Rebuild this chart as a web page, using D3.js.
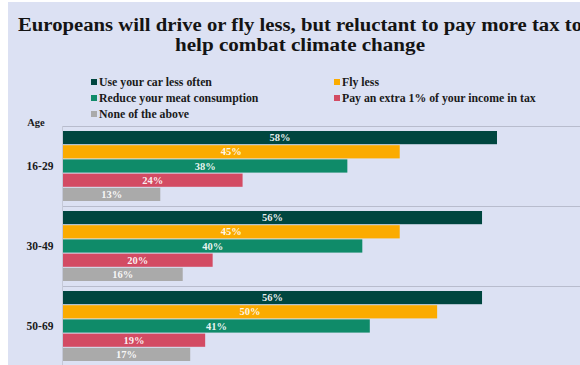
<!DOCTYPE html>
<html>
<head>
<meta charset="utf-8">
<script src="https://cdn.jsdelivr.net/npm/d3@7"></script>
<style>
  html, body { margin: 0; padding: 0; background: #ffffff; }
  svg { display: block; }
</style>
</head>
<body>
<svg id="chart" width="580" height="365"></svg>
<script>
// Survey answers by age group (percent of respondents)
const ageGroups = ["16-29", "30-49", "50-69"];
const seriesNames = [
  "Use your car less often",
  "Fly less",
  "Reduce your meat consumption",
  "Pay an extra 1% of your income in tax",
  "None of the above"
];
const useCarLess = [58, 56, 56];
const flyLess = [45, 45, 50];
const reduceMeat = [38, 40, 41];
const payExtraTax = [24, 20, 19];
const noneOfAbove = [13, 16, 17];
const seriesColors = ["#00463f", "#fbab00", "#0f8b69", "#d34b63", "#aaaaaa"];

const seriesValues = [useCarLess, flyLess, reduceMeat, payExtraTax, noneOfAbove];
const rows = ageGroups.map((age, gi) => ({
  age,
  bars: seriesNames.map((name, si) => ({ name, value: seriesValues[si][gi], color: seriesColors[si] }))
}));

const svg = d3.select("#chart");
const serif = "'Liberation Serif', 'Times New Roman', serif";

// panel background
svg.append("rect").attr("x", 8).attr("y", 2).attr("width", 572).attr("height", 363).attr("fill", "#dce1f3");

// title, two centred lines
const title = svg.append("text")
  .attr("text-anchor", "middle")
  .attr("font-family", serif)
  .attr("font-weight", "bold")
  .attr("font-size", 18.5)
  .attr("fill", "#141414");
title.append("tspan").attr("x", 300).attr("y", 31)
  .attr("textLength", 564).attr("lengthAdjust", "spacingAndGlyphs")
  .text("Europeans will drive or fly less, but reluctant to pay more tax to");
title.append("tspan").attr("x", 300).attr("y", 51)
  .attr("textLength", 250).attr("lengthAdjust", "spacingAndGlyphs")
  .text("help combat climate change");

// legend in two columns
const legendPos = [
  { x: 91, y: 82 }, { x: 334, y: 82 },
  { x: 91, y: 98 }, { x: 334, y: 98 },
  { x: 91, y: 114 }
];
const legend = svg.append("g").selectAll("g").data(seriesNames).join("g")
  .attr("transform", (d, i) => `translate(${legendPos[i].x},${legendPos[i].y})`);
legend.append("rect").attr("x", 0).attr("y", -3).attr("width", 6).attr("height", 6)
  .attr("fill", (d, i) => seriesColors[i]);
legend.append("text").attr("x", 8).attr("y", 4)
  .attr("font-family", serif).attr("font-weight", "bold").attr("font-size", 11.8)
  .attr("fill", "#1a1a1a").text(d => d);

// scales
const x = d3.scaleLinear().domain([0, 58]).range([63, 497]);
const yGroup = d3.scaleBand().domain(ageGroups).range([126, 366]);
const yBar = d3.scaleBand().domain(seriesNames).range([5, 75]).paddingInner(0.07);

// axis title
svg.append("text").attr("x", 36).attr("y", 126)
  .attr("text-anchor", "middle")
  .attr("font-family", serif).attr("font-weight", "bold").attr("font-size", 10.5)
  .attr("fill", "#1a1a1a").text("Age");

// group separators
svg.append("g").selectAll("line").data(ageGroups).join("line")
  .attr("x1", 62).attr("x2", 580)
  .attr("y1", d => yGroup(d) + 0.5).attr("y2", d => yGroup(d) + 0.5)
  .attr("stroke", "#b8bccd").attr("stroke-width", 1.2);

// left axis line
svg.append("line").attr("x1", 62.5).attr("x2", 62.5).attr("y1", 126).attr("y2", 365)
  .attr("stroke", "#c5c9d8").attr("stroke-width", 1);

// age category labels
svg.append("g").selectAll("text").data(ageGroups).join("text")
  .attr("x", 40).attr("y", d => yGroup(d) + yGroup.bandwidth() / 2 + 4)
  .attr("text-anchor", "middle")
  .attr("font-family", serif).attr("font-weight", "bold").attr("font-size", 11.5)
  .attr("fill", "#1a1a1a").text(d => d);

// bars with centred value labels
const groups = svg.append("g").selectAll("g").data(rows).join("g")
  .attr("transform", d => `translate(0,${yGroup(d.age)})`);
groups.selectAll("rect").data(d => d.bars).join("rect")
  .attr("x", x(0))
  .attr("y", d => yBar(d.name))
  .attr("width", d => x(d.value) - x(0))
  .attr("height", yBar.bandwidth())
  .attr("fill", d => d.color);
groups.selectAll("text").data(d => d.bars).join("text")
  .attr("x", d => (x(0) + x(d.value)) / 2)
  .attr("y", d => yBar(d.name) + yBar.bandwidth() / 2 + 3.5)
  .attr("text-anchor", "middle")
  .attr("font-family", serif).attr("font-weight", "bold").attr("font-size", 10.5)
  .attr("fill", "#ffffff").attr("fill-opacity", 0.92)
  .text(d => d.value + "%");
</script>
</body>
</html>
